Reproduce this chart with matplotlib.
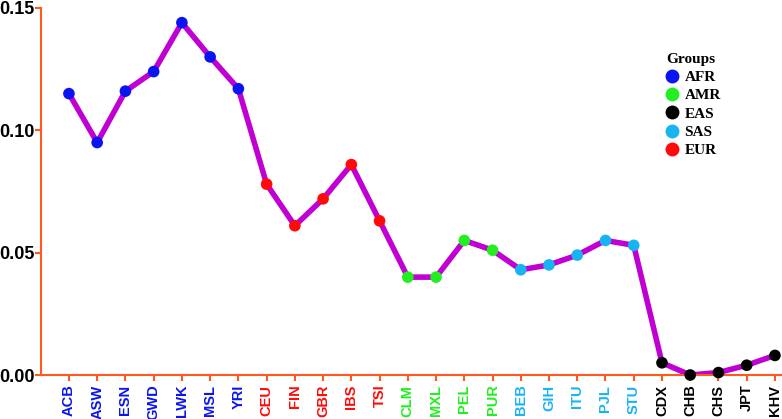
import matplotlib.pyplot as plt
from matplotlib.lines import Line2D

# populations and values
pops = ["ACB", "ASW", "ESN", "GWD", "LWK", "MSL", "YRI",
        "CEU", "FIN", "GBR", "IBS", "TSI",
        "CLM", "MXL", "PEL", "PUR",
        "BEB", "GIH", "ITU", "PJL", "STU",
        "CDX", "CHB", "CHS", "JPT", "KHV"]
groups = ["AFR"] * 7 + ["EUR"] * 5 + ["AMR"] * 4 + ["SAS"] * 5 + ["EAS"] * 5
values = [0.115, 0.095, 0.116, 0.124, 0.144, 0.130, 0.117,
          0.078, 0.061, 0.072, 0.086, 0.063,
          0.040, 0.040, 0.055, 0.051,
          0.043, 0.045, 0.049, 0.055, 0.053,
          0.005, 0.000, 0.001, 0.004, 0.008]

group_order = ["AFR", "AMR", "EAS", "SAS", "EUR"]
group_colors = {"AFR": "#0A14F0", "AMR": "#22EE22", "EAS": "#000000",
                "SAS": "#18B4F2", "EUR": "#FF0A0A"}
spine_col = "#FF5A1E"

fig = plt.figure(figsize=(7.82, 4.19), dpi=100)
ax = fig.add_axes([0.0524, 0.105, 0.9476, 0.876])

x = list(range(len(pops)))
ax.plot(x, values, color="#C000D2", lw=4, zorder=2, solid_capstyle="round")
ax.scatter(x, values, c=[group_colors[g] for g in groups], s=70, zorder=3,
           linewidths=0, clip_on=False)

ax.set_xlim(-0.99, 25.25)
ax.set_ylim(0, 0.15)
ax.set_yticks([0, 0.05, 0.10, 0.15])
ax.set_yticklabels(["0.00", "0.05", "0.10", "0.15"], fontsize=13,
                   fontweight="bold", family="Liberation Sans")
ax.set_xticks(x)
ax.set_xticklabels(pops, rotation=90, fontsize=10.5, fontweight="bold",
                   family="Liberation Sans")

for s in ["top", "right"]:
    ax.spines[s].set_visible(False)
for s in ["left", "bottom"]:
    ax.spines[s].set_color(spine_col)
    ax.spines[s].set_linewidth(1.5)
ax.tick_params(axis="both", color=spine_col, length=4, width=1.5)
ax.tick_params(axis="y", pad=0.5, labelcolor="black")
ax.tick_params(axis="x", pad=3)
for lab, g in zip(ax.get_xticklabels(), groups):
    lab.set_color(group_colors[g])

handles = [Line2D([], [], marker="o", ls="", markersize=10, markeredgewidth=0,
                  color=group_colors[g], label=g) for g in group_order]
leg = ax.legend(handles=handles, title="Groups", loc="upper left",
                bbox_to_anchor=(0.817, 0.915), frameon=False,
                prop={"family": "Liberation Serif", "weight": "bold", "size": 11},
                handletextpad=0.1, labelspacing=0.3, handlelength=1.5)
leg.get_title().set_fontfamily("Liberation Serif")
leg.get_title().set_fontweight("bold")
leg.get_title().set_fontsize(11)

fig.savefig("out.png", dpi=100)
